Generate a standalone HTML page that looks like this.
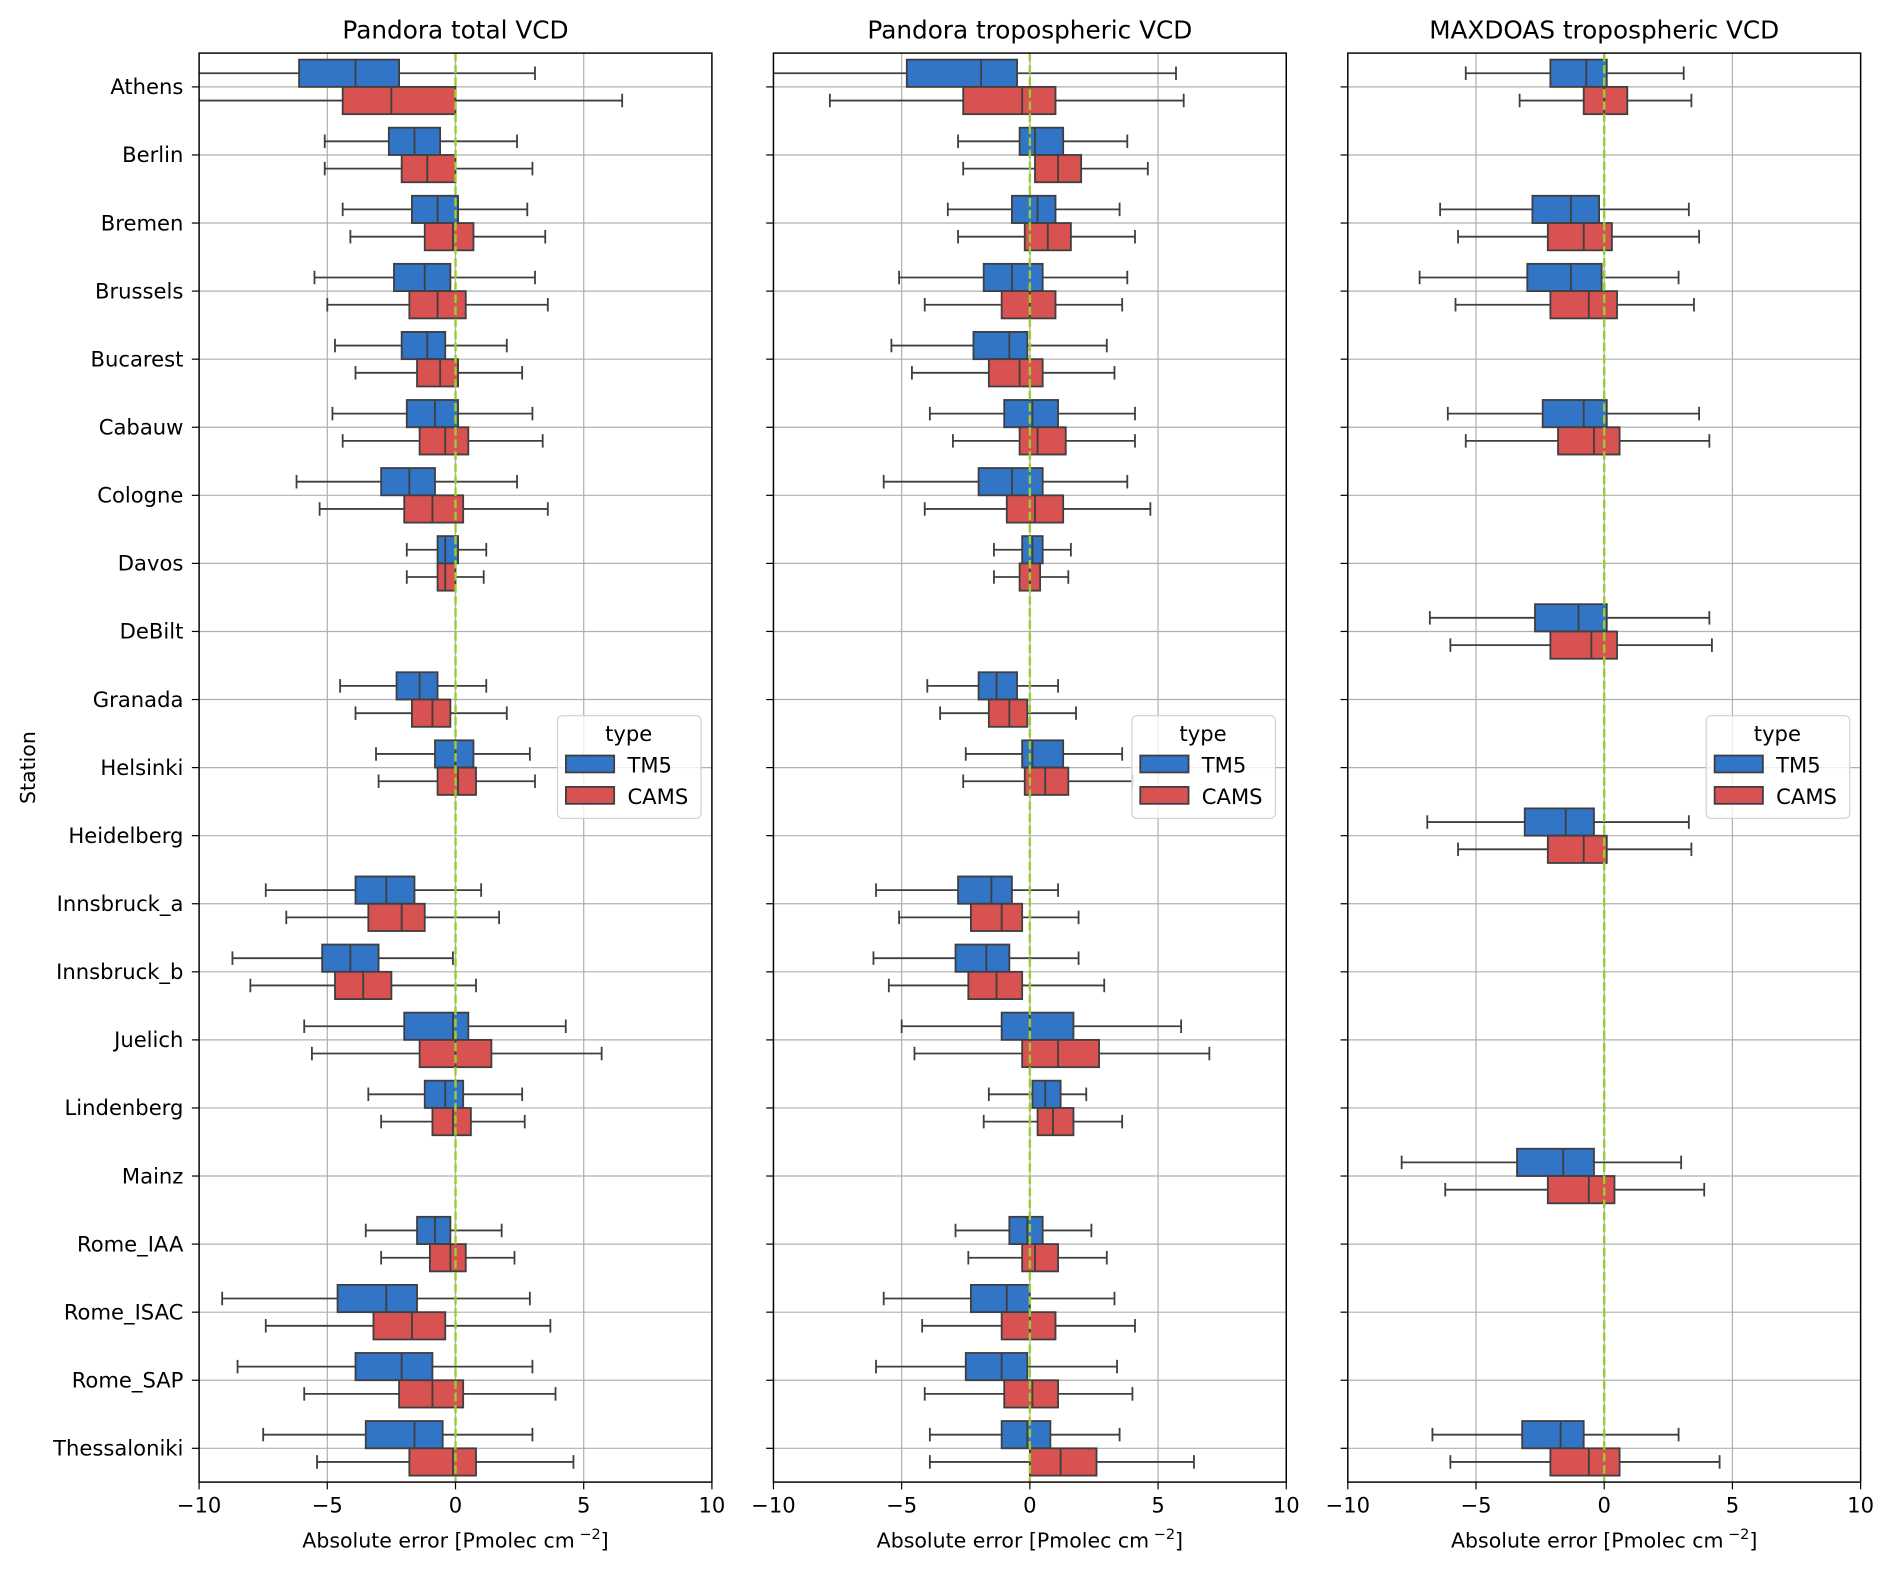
<!DOCTYPE html>
<html><head><meta charset="utf-8"><style>
html,body{margin:0;padding:0;background:#fff;}
svg{display:block;font-family:"DejaVu Sans","Liberation Sans",sans-serif;}
</style></head><body>
<svg id="chart" width="1892" height="1569" viewBox="0 0 1568 1300" preserveAspectRatio="none" xmlns="http://www.w3.org/2000/svg"></svg>
<script>
const stations = ["Athens","Berlin","Bremen","Brussels","Bucarest","Cabauw","Cologne","Davos","DeBilt","Granada","Helsinki","Heidelberg","Innsbruck_a","Innsbruck_b","Juelich","Lindenberg","Mainz","Rome_IAA","Rome_ISAC","Rome_SAP","Thessaloniki"];
const panelTitles = ["Pandora total VCD","Pandora tropospheric VCD","MAXDOAS tropospheric VCD"];
const xTicks = [-10,-5,0,5,10];
const xTickLabels = ["\u221210","\u22125","0","5","10"];
// [whiskerLow, q1, median, q3, whiskerHigh]; null = no data
const p1TM5 = [[-10.5,-6.1,-3.9,-2.2,3.1],[-5.1,-2.6,-1.6,-0.6,2.4],[-4.4,-1.7,-0.7,0.1,2.8],[-5.5,-2.4,-1.2,-0.2,3.1],[-4.7,-2.1,-1.1,-0.4,2.0],[-4.8,-1.9,-0.8,0.1,3.0],[-6.2,-2.9,-1.8,-0.8,2.4],[-1.9,-0.7,-0.4,0.1,1.2],null,[-4.5,-2.3,-1.4,-0.7,1.2],[-3.1,-0.8,0,0.7,2.9],null,[-7.4,-3.9,-2.7,-1.6,1.0],[-8.7,-5.2,-4.1,-3.0,-0.1],[-5.9,-2.0,-0.1,0.5,4.3],[-3.4,-1.2,-0.4,0.3,2.6],null,[-3.5,-1.5,-0.8,-0.2,1.8],[-9.1,-4.6,-2.7,-1.5,2.9],[-8.5,-3.9,-2.1,-0.9,3.0],[-7.5,-3.5,-1.6,-0.5,3.0]];
const p1CAMS = [[-10.5,-4.4,-2.5,0,6.5],[-5.1,-2.1,-1.1,0,3.0],[-4.1,-1.2,-0.1,0.7,3.5],[-5.0,-1.8,-0.7,0.4,3.6],[-3.9,-1.5,-0.6,0.1,2.6],[-4.4,-1.4,-0.4,0.5,3.4],[-5.3,-2.0,-0.9,0.3,3.6],[-1.9,-0.7,-0.4,0,1.1],null,[-3.9,-1.7,-0.9,-0.2,2.0],[-3.0,-0.7,0.1,0.8,3.1],null,[-6.6,-3.4,-2.1,-1.2,1.7],[-8.0,-4.7,-3.6,-2.5,0.8],[-5.6,-1.4,0,1.4,5.7],[-2.9,-0.9,-0.1,0.6,2.7],null,[-2.9,-1.0,-0.2,0.4,2.3],[-7.4,-3.2,-1.7,-0.4,3.7],[-5.9,-2.2,-0.9,0.3,3.9],[-5.4,-1.8,-0.1,0.8,4.6]];
const p2TM5 = [[-10.5,-4.8,-1.9,-0.5,5.7],[-2.8,-0.4,0.2,1.3,3.8],[-3.2,-0.7,0.3,1.0,3.5],[-5.1,-1.8,-0.7,0.5,3.8],[-5.4,-2.2,-0.8,-0.1,3.0],[-3.9,-1.0,0.1,1.1,4.1],[-5.7,-2.0,-0.7,0.5,3.8],[-1.4,-0.3,0.1,0.5,1.6],null,[-4.0,-2.0,-1.3,-0.5,1.1],[-2.5,-0.3,0.1,1.3,3.6],null,[-6.0,-2.8,-1.5,-0.7,1.1],[-6.1,-2.9,-1.7,-0.8,1.9],[-5.0,-1.1,0,1.7,5.9],[-1.6,0.1,0.6,1.2,2.2],null,[-2.9,-0.8,-0.1,0.5,2.4],[-5.7,-2.3,-0.9,0,3.3],[-6.0,-2.5,-1.1,-0.1,3.4],[-3.9,-1.1,-0.1,0.8,3.5]];
const p2CAMS = [[-7.8,-2.6,-0.3,1.0,6.0],[-2.6,0.2,1.1,2.0,4.6],[-2.8,-0.2,0.7,1.6,4.1],[-4.1,-1.1,0,1.0,3.6],[-4.6,-1.6,-0.4,0.5,3.3],[-3.0,-0.4,0.3,1.4,4.1],[-4.1,-0.9,0.2,1.3,4.7],[-1.4,-0.4,0,0.4,1.5],null,[-3.5,-1.6,-0.8,-0.1,1.8],[-2.6,-0.2,0.6,1.5,4.0],null,[-5.1,-2.3,-1.1,-0.3,1.9],[-5.5,-2.4,-1.3,-0.3,2.9],[-4.5,-0.3,1.1,2.7,7.0],[-1.8,0.3,0.9,1.7,3.6],null,[-2.4,-0.3,0.2,1.1,3.0],[-4.2,-1.1,0,1.0,4.1],[-4.1,-1.0,0.1,1.1,4.0],[-3.9,0,1.2,2.6,6.4]];
const p3TM5 = [[-5.4,-2.1,-0.7,0.1,3.1],null,[-6.4,-2.8,-1.3,-0.2,3.3],[-7.2,-3.0,-1.3,-0.1,2.9],null,[-6.1,-2.4,-0.8,0.1,3.7],null,null,[-6.8,-2.7,-1.0,0.1,4.1],null,null,[-6.9,-3.1,-1.5,-0.4,3.3],null,null,null,null,[-7.9,-3.4,-1.6,-0.4,3.0],null,null,null,[-6.7,-3.2,-1.7,-0.8,2.9]];
const p3CAMS = [[-3.3,-0.8,0,0.9,3.4],null,[-5.7,-2.2,-0.8,0.3,3.7],[-5.8,-2.1,-0.6,0.5,3.5],null,[-5.4,-1.8,-0.4,0.6,4.1],null,null,[-6.0,-2.1,-0.5,0.5,4.2],null,null,[-5.7,-2.2,-0.8,0.1,3.4],null,null,null,null,[-6.2,-2.2,-0.6,0.4,3.9],null,null,null,[-6.0,-2.1,-0.6,0.6,4.5]];
const seriesTM5 = [p1TM5,p2TM5,p3TM5];
const seriesCAMS = [p1CAMS,p2CAMS,p3CAMS];

const NS="http://www.w3.org/2000/svg";
const svg=document.getElementById('chart');
function mk(tag,attrs,parent){const e=document.createElementNS(NS,tag);for(const k in attrs)e.setAttribute(k,attrs[k]);(parent||svg).appendChild(e);return e;}
const panelsX=[165,641,1117], W=425, TOP=44, BOT=1228;
const yFirst=72, yStep=56.4, half=11.3;
const BLUE="#3274c6", RED="#d95252", EDGE="#3f3f3f";
function yScale(i){return yFirst+i*yStep;}
panelsX.forEach((px,p)=>{
  const xs=v=>px+(v+10)/20*W;
  const g=mk('g',{});
  
  
  const cid='clip'+p;
  const cp=mk('clipPath',{id:cid},g);mk('rect',{x:px,y:TOP,width:W,height:BOT-TOP},cp);
  xTicks.forEach(t=>{const l=mk('line',{x1:xs(t),x2:xs(t),y1:TOP,y2:BOT,stroke:'#b0b0b0','stroke-width':1},g);});
  stations.forEach((s,i)=>{const l=mk('line',{x1:px,x2:px+W,y1:yScale(i),y2:yScale(i),stroke:'#b0b0b0','stroke-width':1},g);});
  const bg=mk('g',{'clip-path':'url(#'+cid+')'},g);
  [[seriesTM5[p],-half,BLUE,'tm5'],[seriesCAMS[p],half,RED,'cams']].forEach(([ser,off,col,nm])=>{
    ser.forEach((d,i)=>{
      if(!d)return;
      const cy=yScale(i)+off;
      const bx=mk('g',{},bg);
      
      
      mk('line',{x1:xs(d[0]),x2:xs(d[1]),y1:cy,y2:cy,stroke:EDGE,'stroke-width':1.5},bx);
      mk('line',{x1:xs(d[3]),x2:xs(d[4]),y1:cy,y2:cy,stroke:EDGE,'stroke-width':1.5},bx);
      mk('line',{x1:xs(d[0]),x2:xs(d[0]),y1:cy-5.6,y2:cy+5.6,stroke:EDGE,'stroke-width':1.5},bx);
      mk('line',{x1:xs(d[4]),x2:xs(d[4]),y1:cy-5.6,y2:cy+5.6,stroke:EDGE,'stroke-width':1.5},bx);
      mk('rect',{x:xs(d[1]),y:cy-half,width:xs(d[3])-xs(d[1]),height:2*half,fill:col,stroke:EDGE,'stroke-width':1.5},bx);
      mk('line',{x1:xs(d[2]),x2:xs(d[2]),y1:cy-half,y2:cy+half,stroke:EDGE,'stroke-width':1.5},bx);
    });
  });
  const zl=mk('line',{x1:xs(0),x2:xs(0),y1:TOP,y2:BOT,stroke:'#9acd32','stroke-width':2,'stroke-dasharray':'7,3'},g);
  
  const fr=mk('rect',{x:px,y:TOP,width:W,height:BOT-TOP,fill:'none',stroke:'#000','stroke-width':1.2},g);
  
  xTicks.forEach((t,k)=>{
    mk('line',{x1:xs(t),x2:xs(t),y1:BOT,y2:BOT+6,stroke:'#000','stroke-width':1},g);
    const tx=mk('text',{x:xs(t),y:BOT+25,'text-anchor':'middle','font-size':17.5},g);tx.textContent=xTickLabels[k];
    
  });
  stations.forEach((s,i)=>{
    mk('line',{x1:px-6,x2:px,y1:yScale(i),y2:yScale(i),stroke:'#000','stroke-width':1},g);
    if(p===0){const tx=mk('text',{x:px-13,y:yScale(i)+6,'text-anchor':'end','font-size':17.5},g);tx.textContent=s;
      }
  });
  const tt=mk('text',{x:px+W/2,y:32,'text-anchor':'middle','font-size':20.5},g);tt.textContent=panelTitles[p];
  
  const xl=mk('text',{x:px+W/2,y:BOT+54,'text-anchor':'middle','font-size':17},g);
  xl.innerHTML='Absolute error [Pmolec cm<tspan dy="-7" font-size="12"> \u22122</tspan><tspan dy="7">]</tspan>';
  
  const lg=mk('g',{},g);
  
  const lx=px+297;
  mk('rect',{x:lx,y:593,width:119,height:85,rx:4,fill:'#fff','fill-opacity':0.8,stroke:'#d0d0d0','stroke-width':1},lg);
  const lt=mk('text',{x:lx+59,y:614,'text-anchor':'middle','font-size':17.5},lg);lt.textContent='type';
  mk('rect',{x:lx+7,y:626,width:40,height:14,fill:BLUE,stroke:EDGE,'stroke-width':1.5},lg);
  const l1=mk('text',{x:lx+58,y:640,'font-size':17.5},lg);l1.textContent='TM5';
  
  mk('rect',{x:lx+7,y:652,width:40,height:14,fill:RED,stroke:EDGE,'stroke-width':1.5},lg);
  const l2=mk('text',{x:lx+58,y:666,'font-size':17.5},lg);l2.textContent='CAMS';
  
});
const yl=mk('text',{x:29,y:636,'text-anchor':'middle','font-size':17,transform:'rotate(-90 29 636)'});
yl.textContent='Station';


</script>
</body></html>
